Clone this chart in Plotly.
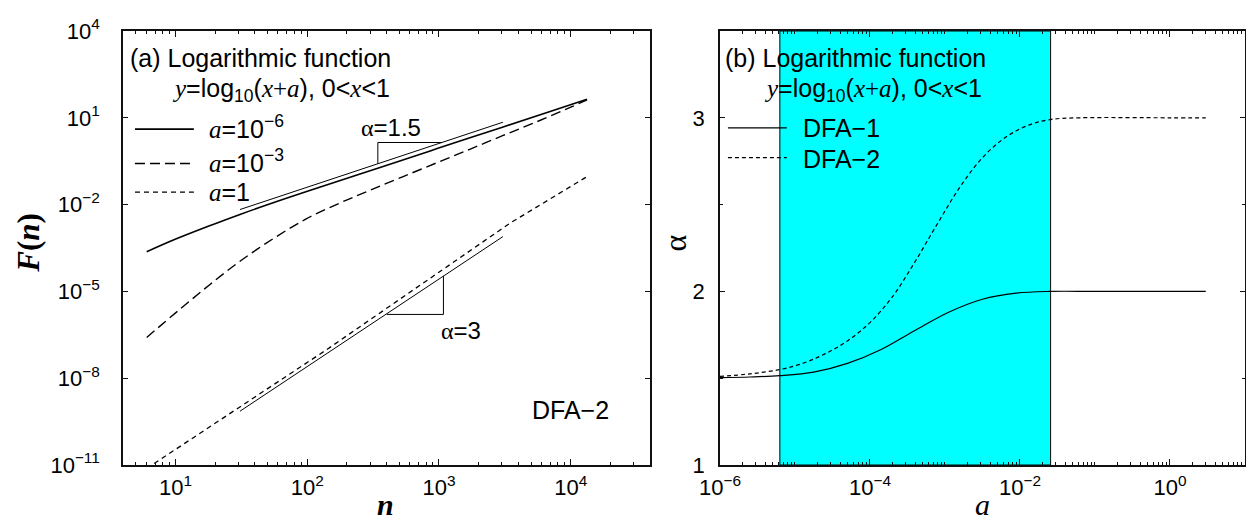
import plotly.graph_objects as go

# ---------------- data ----------------
# Panel (a): F(n) vs n, DFA-2, y = log10(x + a)
n_a1e6 = [6.05, 9.64, 17.3, 30.9, 74.1, 178, 357, 968, 3070, 7350, 13300]
F_a1e6 = [2.34e-4, 5.94e-4, 1.70e-3, 4.57e-3, 1.82e-2, 6.76e-2, 0.193, 0.861, 4.85, 17.8, 43.7]

n_a1e3 = [6.05, 10.8, 18.3, 30.9, 55.1, 98.2, 178, 301, 535, 968, 1730, 3070, 5570, 9910, 13300]
F_a1e3 = [2.57e-7, 2.40e-6, 1.74e-5, 1.10e-4, 6.6e-4, 3.2e-3, 1.15e-2, 3.16e-2,
          9.33e-2, 0.282, 0.832, 2.45, 7.41, 22.9, 41.7]

n_a1 = [6.05, 141, 3470, 13300]
F_a1 = [7.6e-12, 9.8e-8, 2.3e-3, 9.3e-2]

# fitted reference lines and slope triangles
n_fit15 = [30.9, 3055]
F_fit15 = [6.76e-3, 7.03]
n_tri15 = [343.6, 343.6, 1052]
F_tri15 = [0.258, 1.40, 1.40]

n_fit3 = [30.9, 3055]
F_fit3 = [7.24e-10, 7.82e-4]
n_tri3 = [401.8, 1081, 1081]
F_tri3 = [1.6e-6, 1.6e-6, 3.39e-5]

# Panel (b): alpha vs a
a_dfa1 = [1e-6, 2.51e-6, 6.31e-6, 1.78e-5, 5.01e-5, 1.41e-4, 3.98e-4, 1.12e-3, 3.16e-3,
          8.91e-3, 2.51e-2, 0.1, 1.0, 3.0]
alpha_dfa1 = [1.503, 1.507, 1.515, 1.535, 1.585, 1.665, 1.775, 1.88, 1.955, 1.99, 2.0, 2.0, 2.0, 2.0]

a_dfa2 = [1e-6, 2.51e-6, 6.31e-6, 1.26e-5, 2.51e-5, 5.01e-5, 1.0e-4, 2.0e-4, 3.98e-4, 7.94e-4,
          1.58e-3, 3.16e-3, 6.31e-3, 1.26e-2, 2.51e-2, 6.31e-2, 1.0, 3.0]
alpha_dfa2 = [1.51, 1.525, 1.55, 1.585, 1.64, 1.715, 1.82, 1.97, 2.17, 2.39,
              2.60, 2.77, 2.885, 2.955, 2.99, 3.0, 3.0, 3.0]

band_a = [6.29e-6, 0.0256]      # shaded range of a
band_alpha = [1.0, 3.5]

# tick labels
xa_vals = [10, 100, 1000, 10000]
xa_text = ["10<sup>1</sup>", "10<sup>2</sup>", "10<sup>3</sup>", "10<sup>4</sup>"]
ya_vals = [1e-11, 1e-8, 1e-5, 1e-2, 1e1, 1e4]
ya_text = ["10<sup>\u221211</sup>", "10<sup>\u22128</sup>", "10<sup>\u22125</sup>",
           "10<sup>\u22122</sup>", "10<sup>1</sup>", "10<sup>4</sup>"]
xb_vals = [1e-6, 1e-4, 1e-2, 1]
xb_text = ["10<sup>\u22126</sup>", "10<sup>\u22124</sup>", "10<sup>\u22122</sup>", "10<sup>0</sup>"]
yb_vals = [1, 2, 3]
yb_text = ["1", "2", "3"]

# ---------------- figure ----------------
W, H = 1254, 523          # window size
OFF = 8                   # default page body margin
L, R, T, B = 123, 1247, 26, 465   # plot-area edges in window pixels
SANS = "Liberation Sans"
SERIF = "Liberation Serif"


def px(x):
    return (x - L) / (R - L)


def py(y):
    return (B - y) / (B - T)


fig = go.Figure()

blk = "black"
# panel (a)
fig.add_trace(go.Scatter(x=n_a1e6, y=F_a1e6, mode="lines", line=dict(color=blk, width=1.6, shape="spline"),
                         xaxis="x", yaxis="y", showlegend=False))
fig.add_trace(go.Scatter(x=n_a1e3, y=F_a1e3, mode="lines",
                         line=dict(color=blk, width=1.4, dash="10px,5px", shape="spline"),
                         xaxis="x", yaxis="y", showlegend=False))
fig.add_trace(go.Scatter(x=n_a1, y=F_a1, mode="lines", line=dict(color=blk, width=1.3, dash="5px,4px"),
                         xaxis="x", yaxis="y", showlegend=False))
for xs, ys in [(n_fit15, F_fit15), (n_tri15, F_tri15), (n_fit3, F_fit3), (n_tri3, F_tri3)]:
    fig.add_trace(go.Scatter(x=xs, y=ys, mode="lines", line=dict(color=blk, width=1),
                             xaxis="x", yaxis="y", showlegend=False))

# panel (b)
fig.add_trace(go.Scatter(x=[band_a[0], band_a[0], band_a[1], band_a[1], band_a[0]],
                         y=[band_alpha[0], band_alpha[1], band_alpha[1], band_alpha[0], band_alpha[0]],
                         mode="lines", fill="toself", fillcolor="#00FFFF", line=dict(color=blk, width=1),
                         xaxis="x2", yaxis="y2", showlegend=False))
fig.add_trace(go.Scatter(x=a_dfa1, y=alpha_dfa1, mode="lines", line=dict(color=blk, width=1.2, shape="spline"),
                         xaxis="x2", yaxis="y2", showlegend=False))
fig.add_trace(go.Scatter(x=a_dfa2, y=alpha_dfa2, mode="lines",
                         line=dict(color=blk, width=1.2, dash="4px,3px", shape="spline"),
                         xaxis="x2", yaxis="y2", showlegend=False))

# minor ticks
minor_a = [k * 10 ** d for d in range(0, 5) for k in range(2, 10) if 4 <= k * 10 ** d <= 40000]
minor_b = [k * 10.0 ** d for d in range(-6, 1) for k in range(1, 10)
           if not (k == 1 and d in (-6, -4, -2, 0))] + [10.0]

tickfont = dict(family=SANS, size=22, color="black")
axline = dict(showline=True, linecolor="#111", linewidth=1.5, mirror="ticks", ticks="inside",
              showgrid=False, zeroline=False, tickcolor="#111", tickfont=tickfont)

d1 = [0, px(651)]
d2 = [px(721), 1]

fig.update_layout(
    width=W - OFF, height=H - OFF,
    margin=dict(l=L - OFF, r=W - R, t=T - OFF, b=H - B),
    paper_bgcolor="white", plot_bgcolor="white",
    xaxis=dict(type="log", range=[0.602, 4.602], domain=d1, anchor="y",
               tickvals=xa_vals, ticktext=xa_text, ticklen=6, tickwidth=1.2, ticklabelstandoff=2,
               minor=dict(tickvals=minor_a, ticks="inside", ticklen=3, tickcolor="#111", showgrid=False),
               **axline),
    yaxis=dict(type="log", range=[-11, 4], domain=[0, 1], anchor="x",
               tickvals=ya_vals, ticktext=ya_text, ticklen=5, tickwidth=1.2, ticklabelstandoff=17,
               **axline),
    xaxis2=dict(type="log", range=[-6, 1], domain=d2, anchor="y2",
                tickvals=xb_vals, ticktext=xb_text, ticklen=6, tickwidth=1.2, ticklabelstandoff=2,
                minor=dict(tickvals=minor_b, ticks="inside", ticklen=3, tickcolor="#111", showgrid=False),
                **axline),
    yaxis2=dict(type="linear", range=[1, 3.5], domain=[0, 1], anchor="x2",
                tickvals=yb_vals, ticktext=yb_text, ticklen=5, tickwidth=1.2, ticklabelstandoff=9,
                minor=dict(tickvals=[1.5, 2.5], ticks="inside", ticklen=3, tickcolor="#111", showgrid=False),
                **axline),
)

ser = lambda s: f'<span style="font-family:{SERIF}"><i>{s}</i></span>'
formula = (f'{ser("y")}=log<sub>10</sub>({ser("x")}<span style="font-family:{SERIF}">+</span>{ser("a")}), '
           f'0&lt;{ser("x")}&lt;1')

ann = []


def text(x, y, s, size=25, xanchor="left", family=SANS, angle=0, yanchor="middle"):
    ann.append(dict(x=px(x), y=py(y), xref="paper", yref="paper", text=s, showarrow=False,
                    xanchor=xanchor, yanchor=yanchor, textangle=angle,
                    font=dict(family=family, size=size, color="black")))


# panel (a) texts
text(128, 53, "(a) Logarithmic function")
text(170, 86, formula)
text(207, 123, f'{ser("a")}=10<sup>\u22126</sup>')
text(207, 157, f'{ser("a")}=10<sup>\u22123</sup>')
text(207, 189, f'{ser("a")}=1')
text(391, 124, '<span style="font-family:Liberation Serif">\u03b1</span>=1.5', size=24, xanchor="center")
text(462, 329, '<span style="font-family:Liberation Serif">\u03b1</span>=3', size=24, xanchor="center")
text(571, 409, "DFA\u22122", xanchor="center")

# panel (b) texts
text(724, 53, "(b) Logarithmic function")
text(763, 86, formula)
text(802, 124, "DFA\u22121")
text(802, 155, "DFA\u22122")

# axis titles
text(28, 240, "<b><i>F</i>(<i>n</i>)</b>", size=31, xanchor="center", family=SERIF, angle=-90)
text(386, 505, "<b><i>n</i></b>", size=30, xanchor="center", family=SERIF)
text(676, 241, "\u03b1", size=32, xanchor="center", family=SERIF, angle=-90)
text(984, 505, "<i>a</i>", size=30, xanchor="center", family=SERIF)

fig.update_layout(annotations=ann)

# legend line samples (styling only)
shapes = []
for yy, dash, w in [(125.3, "solid", 1.6), (160, "10px,5px", 1.4), (189, "5px,4px", 1.3)]:
    shapes.append(dict(type="line", xref="paper", yref="paper", x0=px(135), x1=px(194), y0=py(yy), y1=py(yy),
                       line=dict(color=blk, width=w, dash=dash)))
for yy, dash in [(124, "solid"), (154, "4px,3px")]:
    shapes.append(dict(type="line", xref="paper", yref="paper", x0=px(729), x1=px(788), y0=py(yy), y1=py(yy),
                       line=dict(color=blk, width=1.2, dash=dash)))
fig.update_layout(shapes=shapes)

fig.write_html("out.html")
